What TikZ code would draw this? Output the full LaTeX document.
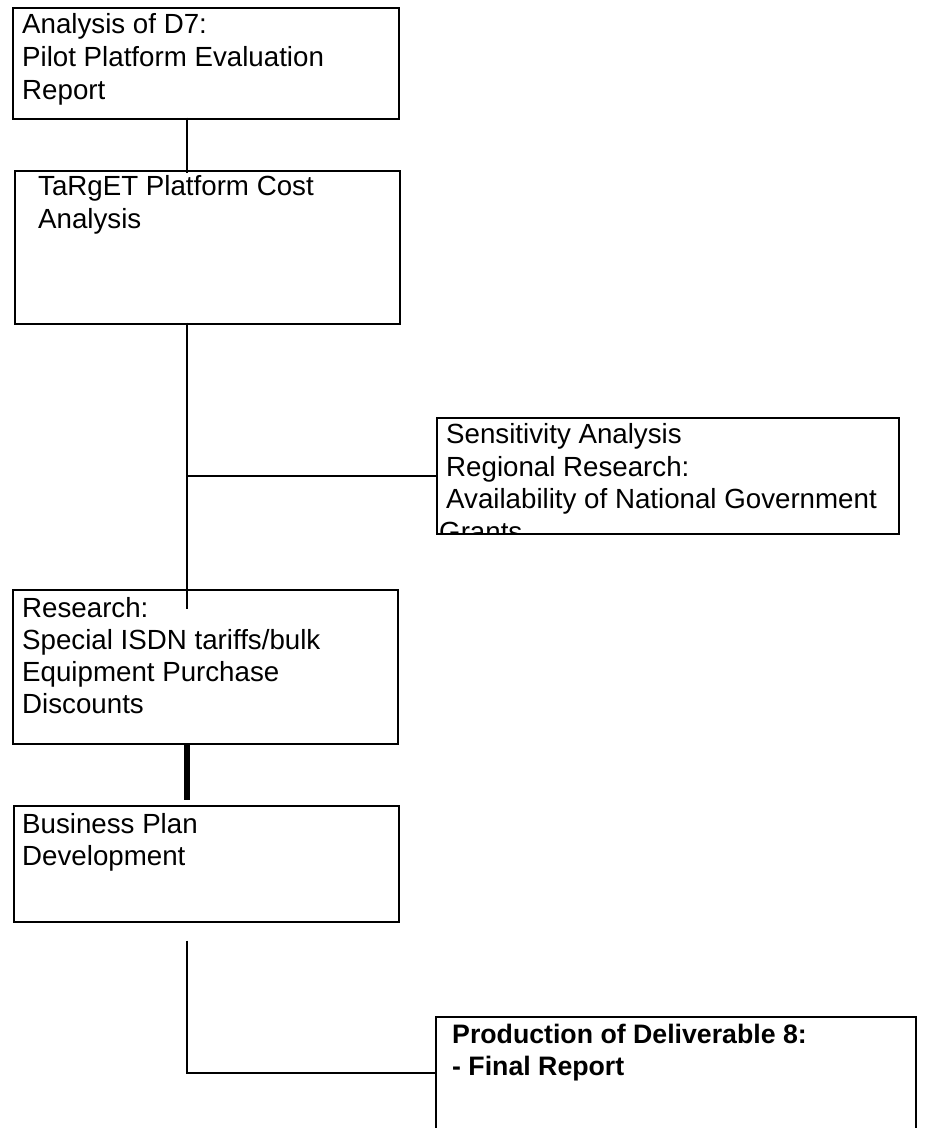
\documentclass[tikz,border=0pt]{standalone}
\usepackage{fontspec}
\setmainfont{Liberation Sans}
\begin{document}
\begin{tikzpicture}[x=1pt,y=-1pt,
  box/.style={draw=black,line width=1.5pt,rectangle,inner sep=0pt,anchor=north west},
  conn/.style={draw=black,line width=1.5pt},
  thick conn/.style={draw=black,line width=6pt},
  txt/.style={anchor=base west,inner sep=0pt,font=\fontsize{27.7}{33}\selectfont},
  btxt/.style={anchor=base west,inner sep=0pt,font=\fontsize{26.7}{33}\selectfont\bfseries}]
\useasboundingbox[fill=white] (0,0) rectangle (925,1128);
\clip (0,0) rectangle (925,1128);
\coordinate (spine) at (187,0);
% boxes
\node[box,minimum width=386pt,minimum height=111pt] (A) at (12,7) {};
\node[box,minimum width=385pt,minimum height=153pt] (B) at (14,170) {};
\begin{scope}
\clip (436,417) rectangle (898,533);
\node[txt] (s1) at (446,443) {Sensitivity Analysis};
\node[txt] (s2) at (446,476) {Regional Research:};
\node[txt] (s3) at (446,508) {Availability of National Government};
\node[txt] (s4) at (439,541) {Grants};
\end{scope}
\node[box,minimum width=462pt,minimum height=116pt] (S) at (436,417) {};
\node[box,minimum width=385pt,minimum height=154pt] (R) at (12,589) {};
\node[box,minimum width=385pt,minimum height=116pt] (P) at (13,805) {};
\node[box,minimum width=480pt,minimum height=130pt] (F) at (435,1016) {};
% texts
\node[txt] (a1) at (22,33) {Analysis of D7:};
\node[txt] (a2) at (22,66) {Pilot Platform Evaluation};
\node[txt] (a3) at (22,99) {Report};
\node[txt] (b1) at (38,195) {TaRgET Platform Cost};
\node[txt] (b2) at (38,228) {Analysis};
\node[txt] (r1) at (22,617) {Research:};
\node[txt] (r2) at (22,649) {Special ISDN tariffs/bulk};
\node[txt] (r3) at (22,681) {Equipment Purchase};
\node[txt] (r4) at (22,713) {Discounts};
\node[txt] (p1) at (22,833) {Business Plan};
\node[txt] (p2) at (22,865) {Development};
\node[btxt] (f1) at (452,1043) {Production of Deliverable 8:};
\node[btxt] (f2) at (452,1075) {- Final Report};
% connectors
\draw[conn] ([yshift=2pt]A.south -| spine) -- ([yshift=-3pt]B.north -| spine);
\draw[conn] ([yshift=2pt]B.south -| spine) -- ([yshift=-20pt]R.north -| spine);
\draw[conn] (S.west -| spine) -- (S.west);
\draw[thick conn] (R.south -| spine) -- ([yshift=5pt]P.north -| spine);
\draw[conn] ([yshift=-18pt]P.south -| spine) |- ([yshift=-57pt]F.north west);
\end{tikzpicture}
\end{document}
